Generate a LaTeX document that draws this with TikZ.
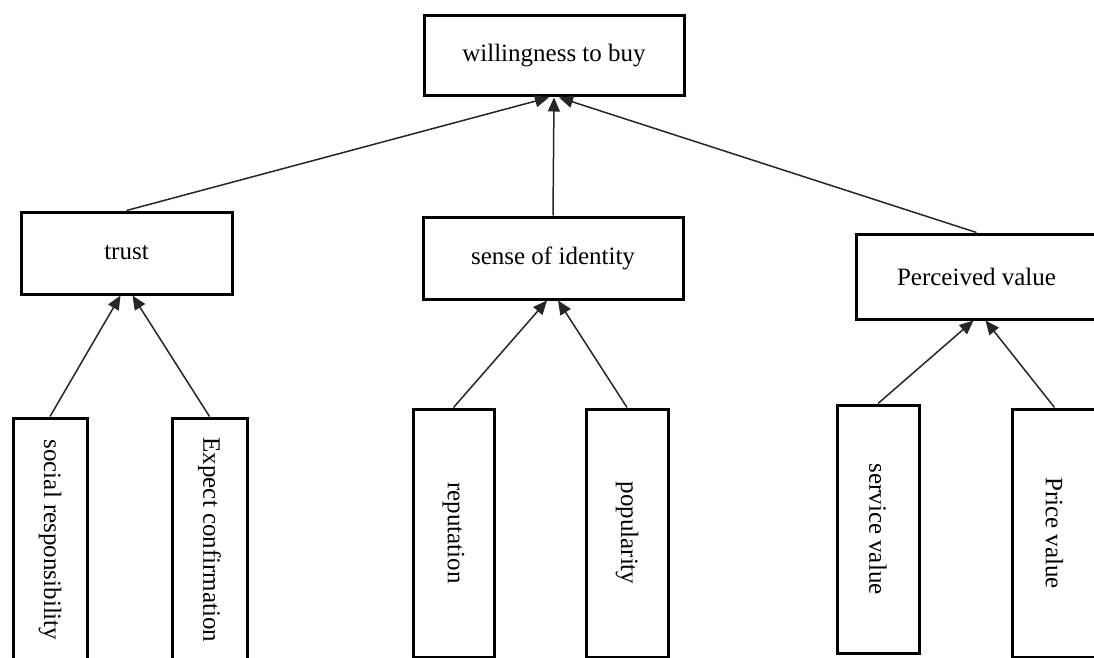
\documentclass[tikz,border=0pt]{standalone}
\usepackage{fontspec}
\setmainfont{Liberation Serif}
\usetikzlibrary{arrows.meta}
\begin{document}
\begin{tikzpicture}[x=1pt,y=-1pt,
  box/.style={draw=black, line width=3pt, fill=white, inner sep=0pt, font=\fontsize{25}{30}\selectfont},
  vbox/.style={box, rotate=-90},
  arr/.style={draw=black!85, line width=1.5pt, -{Triangle[length=14pt,width=12pt]}}]
\fill[white] (0,0) rectangle (1094,658);
\useasboundingbox (0,0) rectangle (1094,658);
\clip (0,0) rectangle (1094,658);
% top level
\node[box, minimum width=260pt, minimum height=80pt] (top) at (554,56) {willingness to buy};
% middle level
\node[box, minimum width=211pt, minimum height=82pt] (trust) at (126.5,253) {trust};
\node[box, minimum width=260pt, minimum height=82pt] (sense) at (553,258) {sense of identity};
\node[box, minimum width=241pt, minimum height=85pt] (perc) at (976.5,276.5) {Perceived value};
% bottom level (vertical boxes)
\node[vbox, minimum width=244pt, minimum height=74pt] (soc) at (50,540) {social responsibility};
\node[vbox, minimum width=244pt, minimum height=75pt] (exp) at (209.5,540) {Expect confirmation};
\node[vbox, minimum width=248pt, minimum height=81pt] (rep) at (453.5,533) {reputation};
\node[vbox, minimum width=248pt, minimum height=82pt] (pop) at (627,533) {popularity};
\node[vbox, minimum width=248pt, minimum height=82pt] (serv) at (878,529) {service value};
\node[vbox, minimum width=248pt, minimum height=85pt] (price) at (1054.5,533) {Price value};
% connectors
\draw[arr] (trust.north) -- ([xshift=-5pt]top.south);
\draw[arr] (sense.north) -- (top.south);
\draw[arr] (perc.north) -- ([xshift=5pt]top.south);
\draw[arr] (soc.west) -- ([xshift=-6pt]trust.south);
\draw[arr] (exp.west) -- ([xshift=6pt]trust.south);
\draw[arr] (rep.west) -- ([xshift=-6pt]sense.south);
\draw[arr] (pop.west) -- ([xshift=5pt]sense.south);
\draw[arr] (serv.west) -- ([xshift=-3pt]perc.south);
\draw[arr] (price.west) -- ([xshift=9pt]perc.south);
\end{tikzpicture}
\end{document}
